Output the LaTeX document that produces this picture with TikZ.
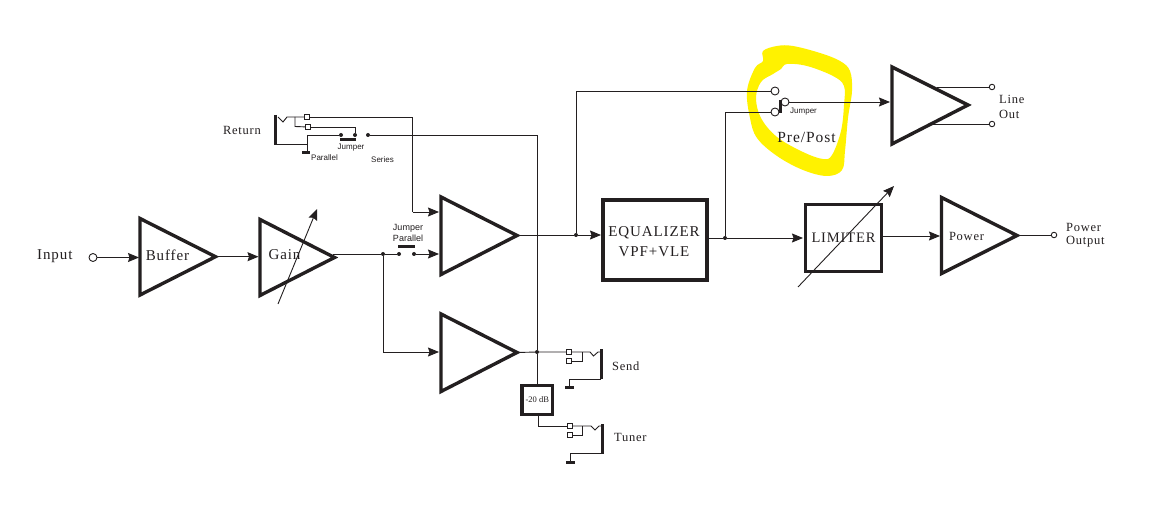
\documentclass[tikz,border=0pt]{standalone}
\usepackage{fontspec}
\setmainfont{Liberation Serif}
\newfontfamily\spaced[LetterSpace=6]{Liberation Serif}
\newfontfamily\lsans{Liberation Sans}
\usetikzlibrary{arrows.meta,calc}
\definecolor{ink}{HTML}{231F20}
\definecolor{marker}{HTML}{FFF200}
\tikzset{
  wire/.style={draw=ink,line width=0.9pt},
  awire/.style={wire,-{Stealth[length=11pt,width=9pt,inset=1.5pt]}},
  ampshape/.style={draw=ink,line width=3.4pt,miter limit=10},
  blockbox/.style={draw=ink,line width=3.2pt,rectangle,inner sep=0pt,outer sep=0pt,align=center,text=ink},
  jackbar/.style={draw=ink,line width=3pt},
  jumperbar/.style={draw=ink,line width=3pt},
  dotn/.style={circle,fill=ink,inner sep=0pt,minimum size=4pt},
  ring/.style={circle,draw=ink,line width=0.9pt,fill=white,inner sep=0pt,minimum size=8pt},
  sring/.style={circle,draw=ink,line width=0.9pt,fill=white,inner sep=0pt,minimum size=5.5pt},
  sq/.style={rectangle,draw=ink,line width=0.8pt,fill=white,inner sep=0pt,minimum size=5pt},
  lab/.style={inner sep=0pt,text=ink,font=\spaced\fontsize{12.5}{14}\selectfont},
  biglab/.style={inner sep=0pt,text=ink,font=\spaced\fontsize{15}{17}\selectfont},
  small/.style={inner sep=0pt,text=ink,font=\lsans\fontsize{8}{9.5}\selectfont,align=center},
}
\newcommand{\ampl}[6]{% name, left, top, bot, tip, midy
  \coordinate (#1-a) at (#2,#3);
  \coordinate (#1-b) at (#2,#4);
  \coordinate (#1-tip) at (#5,#6);
  \draw[ampshape] (#1-a) -- (#1-tip) -- (#1-b) -- cycle;
}
\begin{document}
\begin{tikzpicture}[x=1pt,y=-1pt]
\useasboundingbox (0,0) rectangle (1159,529);
\fill[white] (0,0) rectangle (1159,529);
% yellow marker
\fill[marker,even odd rule]
  plot[smooth cycle,tension=0.6] coordinates {(763,51)(777,46)(793,46)(820,53)(840,61)(850,71)(852,91)(848,118)(845,151)(842,170)(827,176)(803,170)(777,156)(757,138)(750,118)(747,91)(755,68)(763,61)}
  plot[smooth cycle,tension=0.6] coordinates {(787,64)(807,66)(833,76)(844,86)(844,105)(841,131)(832,155)(823,159)(803,152)(777,137)(761,118)(756,98)(761,82)(773,74)(781,69)};

% amplifiers
\ampl{bufamp}{140}{218.5}{295}{215.5}{256.7}
\ampl{gainamp}{260}{219.5}{295.5}{334.5}{257.5}
\ampl{ampA}{441}{197}{274.5}{517}{235.5}
\ampl{ampB}{441}{314}{391.5}{517}{352.5}
\ampl{lineamp}{892}{67}{144}{968}{105}
\ampl{poweramp}{941.5}{197.5}{273.5}{1017}{235.5}
\node[biglab] (buflab) at (167.5,255) {Buffer};
\node[biglab] (gainlab) at (284.5,255) {Gain};
\node[lab] (powerlab) at (966.5,236) {Power};

% boxes
\node[blockbox,minimum width=104pt,minimum height=80pt] (eq) at (655,240) {};
\node[inner sep=0pt,text=ink,align=center,font=\spaced\fontsize{15}{20}\selectfont] (eqlab) at (654,242) {EQUALIZER\\VPF+VLE};
\node[blockbox,minimum width=76pt,minimum height=67pt,font=\spaced\fontsize{14.5}{16}\selectfont] (lim) at (843.5,238) {LIMITER};
\node[blockbox,minimum width=30.5pt,minimum height=29pt,font=\fontsize{8.5}{10}\selectfont] (pad) at (537.3,400) {-20 dB};

% input
\node[ring] (inp) at (93,257.5) {};
\node[biglab,anchor=west] (inplab) at (37,256) {Input};
\coordinate (bufin) at (139,257.5);
\draw[awire] (inp) -- (bufin);
\coordinate (gainin) at (258.5,256.7);
\draw[awire] (bufamp-tip) -- (gainin);

% gain adjust
\coordinate (gaina) at (278,304);
\coordinate (gainb) at (317,209);
\draw[awire] (gaina) -- (gainb);

% jumper parallel
\node[dotn] (d1) at (383,254) {};
\node[dotn] (d2) at (399,254) {};
\node[dotn] (d3) at (414,254) {};
\coordinate (ampAin2) at (439,254);
\coordinate (ampAin1) at (439,212);
\coordinate (ampBin) at (439,352);
\coordinate (gainout) at (333,254);
\draw[wire] (gainout) -- (d1) -- (d2);
\draw[awire] (d3) -- (ampAin2);
\draw[awire] (d1) |- (ampBin);
\coordinate (jpa) at (398,247);
\coordinate (jpb) at (415,247);
\draw[jumperbar] (jpa) -- (jpb);
\node[small,font=\lsans\fontsize{9}{11}\selectfont] (jplab) at (408,232.5) {Jumper\\Parallel};

% return jack
\coordinate (rja) at (275,115);
\coordinate (rjb) at (275,145);
\draw[jackbar] (rja) -- (rjb);
\node[sq] (rs1) at (307,117) {};
\node[sq] (rs2) at (308,127) {};
\coordinate (rc0) at (278,117);
\coordinate (rc1) at (283,122);
\coordinate (rc2) at (287,117);
\coordinate (rc3) at (295,117);
\coordinate (rc4) at (295,126.5);
\draw[wire] (rc0) -- (rc1) -- (rc2) -- (rc3) -- (rs1);
\draw[wire] (rc3) -- (rc4) -- (rs2);
\node[dotn] (rd1) at (341,135) {};
\node[dotn] (rd2) at (355,135) {};
\node[dotn] (rd3) at (368,135) {};
\coordinate (rgt) at (307,135);
\coordinate (rgm) at (307,144);
\coordinate (rgb) at (307,153);
\draw[wire] (rgt) -- (rd1);
\draw[wire] (rgt) -- (rgb);
\draw[wire] (rjb |- rgm) -- (rgm);
\draw[jumperbar] (302,153) -- (310,153);
\draw[wire] (rs2) -| (rd2);
\coordinate (rjumpa) at (340,140);
\coordinate (rjumpb) at (356,140);
\draw[jumperbar] (rjumpa) -- (rjumpb);
\coordinate (rtc) at (412.5,117);
\coordinate (rtd) at (412.5,212);
\draw[wire] (rs1) -- (rtc) -- (rtd);
\draw[awire] (rtd) -- (ampAin1);
\node[lab,anchor=east] (retlab) at (261,130) {Return};
\node[small,anchor=west] (jlab) at (337.5,147.5) {Jumper};
\node[small,anchor=west] (parlab) at (311,158) {Parallel};
\node[small,anchor=west] (serlab) at (371,160) {Series};

% series line and send node
\node[dotn] (sd) at (537,352) {};
\coordinate (serc) at (537,135);
\draw[wire] (rd3) -- (serc) -- (sd);
\draw[wire] (sd) -- (pad.north -| sd);
\draw[wire] (ampB-tip) -- (sd);

% send jack
\node[sq] (ss1) at (569,352) {};
\node[sq] (ss2) at (569,361) {};
\coordinate (sc1) at (582,352);
\coordinate (sc2) at (590,352);
\coordinate (sc3) at (593.5,356);
\coordinate (sc4) at (598,352);
\coordinate (sc5) at (600,352);
\coordinate (sc6) at (582,361);
\draw[wire] (sd) -- (ss1) -- (sc1) -- (sc2) -- (sc3) -- (sc4) -- (sc5);
\draw[wire] (sc1) -- (sc6) -- (ss2);
\coordinate (sja) at (601,349);
\coordinate (sjb) at (601,379);
\draw[jackbar] (sja) -- (sjb);
\coordinate (sgc) at (569,379);
\coordinate (sgb) at (569,387);
\draw[wire] (sjb) -- (sgc) -- (sgb);
\draw[jumperbar] (565,387.5) -- (574,387.5);
\node[lab,anchor=west] (sendlab) at (612,366) {Send};

% tuner jack
\node[sq] (ts1) at (570,426) {};
\node[sq] (ts2) at (570,435) {};
\coordinate (tp) at (538,426);
\draw[wire] (pad.south -| tp) -- (tp) -- (ts1);
\coordinate (tc1) at (582,426);
\coordinate (tc2) at (591,426);
\coordinate (tc3) at (595,430);
\coordinate (tc4) at (599,426);
\coordinate (tc5) at (601,426);
\coordinate (tc6) at (582,435);
\draw[wire] (ts1) -- (tc1) -- (tc2) -- (tc3) -- (tc4) -- (tc5);
\draw[wire] (tc1) -- (tc6) -- (ts2);
\coordinate (tja) at (602,424);
\coordinate (tjb) at (602,454);
\draw[jackbar] (tja) -- (tjb);
\coordinate (tgc) at (570,453);
\coordinate (tgb) at (570,462);
\draw[wire] (tjb |- tgc) -- (tgc) -- (tgb);
\draw[jumperbar] (566,462.5) -- (575,462.5);
\node[lab,anchor=west] (tunlab) at (614,437) {Tuner};

% main line
\node[dotn] (md) at (576,235) {};
\coordinate (eqin) at (601,235);
\draw[wire] (ampA-tip |- md) -- (md);
\draw[awire] (md) -- (eqin);

% pre/post
\node[ring] (pre) at (775,91) {};
\node[ring] (post) at (775,112) {};
\node[ring] (com) at (785,102) {};
\coordinate (prec) at (576,91);
\draw[wire] (md) -- (prec) -- (pre);
\node[dotn] (eqd) at (725,238) {};
\draw[wire] (eq.east |- eqd) -- (eqd);
\coordinate (limin) at (803,238);
\draw[awire] (eqd) -- (limin);
\coordinate (postc) at (725,112);
\draw[wire] (eqd) -- (postc) -- (post);
\coordinate (pja) at (780,100);
\coordinate (pjb) at (780,113);
\draw[jumperbar] (pja) -- (pjb);
\coordinate (linein) at (890,102);
\draw[awire] (com) -- (linein);
\node[small,anchor=west] (pjlab) at (790,112) {Jumper};
\node[biglab,font=\spaced\fontsize{15.5}{17}\selectfont] (pplab) at (806.5,137) {Pre/Post};

% line out
\node[sring] (lo1) at (992,87) {};
\node[sring] (lo2) at (992,124) {};
\coordinate (lo1s) at (937,87);
\coordinate (lo2s) at (933,124);
\draw[wire] (lo1s) -- (lo1);
\draw[wire] (lo2s) -- (lo2);
\node[lab,anchor=west] (l1) at (999,99) {Line};
\node[lab,anchor=west] (l2) at (999,114) {Out};

% limiter and power
\coordinate (lima) at (798,287);
\coordinate (limb) at (894,186);
\draw[awire] (lima) -- (limb);
\coordinate (powin) at (940,236);
\draw[awire] (lim.east |- powin) -- (powin);
\node[sring] (pwo) at (1054,235) {};
\draw[wire] (poweramp-tip |- pwo) -- (pwo);
\node[lab,anchor=west] (p1) at (1066,227) {Power};
\node[lab,anchor=west] (p2) at (1066,242) {Output};
\end{tikzpicture}
\end{document}
